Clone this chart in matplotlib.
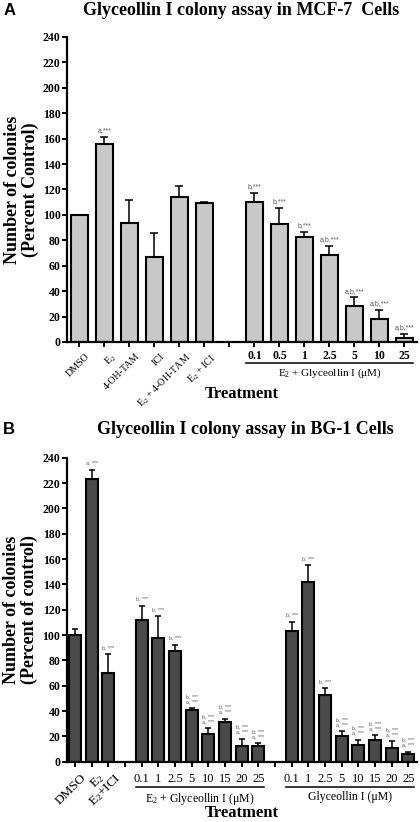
import numpy as np
import matplotlib
matplotlib.use("Agg")
import matplotlib.pyplot as plt
import matplotlib.transforms as mtransforms

plt.rcParams['font.family'] = ['Liberation Serif', 'DejaVu Serif']
plt.rcParams['mathtext.fontset'] = 'custom'
plt.rcParams['mathtext.rm'] = 'Liberation Serif'
plt.rcParams['mathtext.it'] = 'Liberation Serif:italic'
plt.rcParams['mathtext.bf'] = 'Liberation Serif:bold'

# ---------------- Panel A data (MCF-7) ----------------
A_ctrl_labels = ["DMSO", "E$_2$", "4-OH-TAM", "ICI", "E$_2$ + 4-OH-TAM", "E$_2$ + ICI"]
A_ctrl_vals = [100, 156, 94, 66.5, 114, 109]
A_ctrl_err = [0, 5.5, 17.5, 19.5, 9, 1]
A_ctrl_ann = ["", "a,***", "", "", "", ""]
A_doses = ["0.1", "0.5", "1", "2.5", "5", "10", "25"]
A_dose_vals = [110, 93, 82.5, 68.5, 28.5, 18, 3.5]
A_dose_err = [7, 12.5, 4, 7, 6.5, 7.5, 2.8]
A_dose_ann = ["b,***", "b,***", "b,***", "a,b,***", "a,b,***", "a,b,***", "a,b,***"]

# ---------------- Panel B data (BG-1) ----------------
B_ctrl_labels = ["DMSO", "E$_2$", "E$_2$+ICI"]
B_ctrl_vals = [100, 223, 70]
B_ctrl_err = [5, 7.5, 15]
B_ctrl_ann = ["", "a, ***", "b, ***"]
B_doses = ["0.1", "1", "2.5", "5", "10", "15", "20", "25"]
B_e2gly_vals = [112, 98, 87, 41, 22, 31, 12, 12]
B_e2gly_err = [11, 17, 5.5, 1, 4.5, 3, 6, 2.5]
B_e2gly_ann = ["b, ***", "b, ***", "b, ***", "b, ***\na, ***", "b, ***\na, ***",
               "b, ***\na, ***", "b, ***\na, ***", "b, ***\na, ***"]
B_gly_vals = [103, 142, 53, 20, 13, 17.5, 10.5, 6]
B_gly_err = [7.5, 13, 5, 4, 4.5, 3.5, 5.5, 2]
B_gly_ann = ["b, ***", "b, ***", "b, ***", "b, ***\na, ***", "b, ***\na, ***",
             "b, ***\na, ***", "b, ***\na, ***", "b, ***\na, ***"]

fig = plt.figure(figsize=(4.2, 8.22), dpi=100)


def style_axis(ax, ymax=240):
    ax.set_ylim(0, ymax)
    ax.set_yticks(np.arange(0, ymax + 1, 20))
    for s in ['top', 'right']:
        ax.spines[s].set_visible(False)
    for s in ['left', 'bottom']:
        ax.spines[s].set_linewidth(1.6)
    ax.tick_params(axis='both', width=1.4, length=3.5, direction='out')
    ax.tick_params(axis='y', labelsize=8.5, pad=1)
    for lab in ax.get_yticklabels():
        lab.set_fontweight('bold')


def draw_bars(ax, pos, vals, errs, color, width, capsize, lw):
    ax.bar(pos, vals, width=width, color=color, edgecolor='black', linewidth=lw, zorder=2)
    ax.errorbar(pos, vals, yerr=[np.zeros(len(errs)), errs], fmt='none', ecolor='black',
                elinewidth=1.1, capsize=capsize, capthick=1.1, zorder=1)


def annotate(ax, pos, vals, errs, anns, size, offset_pts):
    for p, v, e, a in zip(pos, vals, errs, anns):
        if a:
            ax.annotate(a, xy=(p, v + e), xytext=(0, offset_pts), textcoords='offset points',
                        ha='center', va='bottom', fontsize=size, color='#555555',
                        family=['Liberation Sans', 'DejaVu Sans'], linespacing=1.0)


def group_line(ax, x0, x1, yfrac, label, size):
    trans = mtransforms.blended_transform_factory(ax.transData, ax.transAxes)
    ax.plot([x0, x1], [yfrac, yfrac], transform=trans, color='black', lw=1.1, clip_on=False)
    ax.text((x0 + x1) / 2, yfrac - 0.013, label, transform=trans, ha='center', va='top',
            fontsize=size)


# ================= Panel A =================
axA = fig.add_axes([0.1595, 0.584, 0.8333, 0.371])
nA = len(A_ctrl_vals)
posA_ctrl = np.arange(nA)
posA_dose = np.arange(nA + 1, nA + 1 + len(A_dose_vals))
wA = 0.68
draw_bars(axA, posA_ctrl, A_ctrl_vals, A_ctrl_err, '#c8c8c8', wA, 3.2, 1.5)
draw_bars(axA, posA_dose, A_dose_vals, A_dose_err, '#c8c8c8', wA, 3.2, 1.5)
annotate(axA, posA_ctrl, A_ctrl_vals, A_ctrl_err, A_ctrl_ann, 5, 2)
annotate(axA, posA_dose, A_dose_vals, A_dose_err, A_dose_ann, 5, 2)
axA.set_xlim(-0.5, posA_dose[-1] + 0.5)
style_axis(axA)
allposA = np.arange(0, posA_dose[-1] + 1)
axA.set_xticks(allposA)
axA.set_xticklabels([''] * len(allposA))
for p, lab in zip(posA_ctrl, A_ctrl_labels):
    axA.annotate(lab, xy=(p, 0), xytext=(4, -7), textcoords='offset points',
                 ha='right', va='top', rotation=45, rotation_mode='anchor', fontsize=7.2)
transA = mtransforms.blended_transform_factory(axA.transData, axA.transAxes)
for p, lab in zip(posA_dose, A_doses):
    axA.text(p, -0.045, lab, transform=transA, ha='center', va='center',
             fontsize=8.5, fontweight='bold')
group_line(axA, posA_dose[0] - wA / 2, posA_dose[-1] + wA / 2, -0.068,
           "E$_2$ + Glyceollin I (\u03bcM)", 8)
axA.text(0.5, -0.17, "Treatment", transform=axA.transAxes, ha='center', va='center',
         fontsize=12, fontweight='bold')
axA.set_ylabel("Number of colonies\n(Percent Control)", fontsize=13, fontweight='bold',
               labelpad=3, linespacing=1.05)
fig.text(0.575, 0.987, "Glyceollin I colony assay in MCF-7  Cells", ha='center', va='center',
         fontsize=13, fontweight='bold')
fig.text(0.008, 0.987, "A", ha='left', va='center', fontsize=12, fontweight='bold',
         family=['Liberation Sans', 'DejaVu Sans'])

# ================= Panel B =================
axB = fig.add_axes([0.1588, 0.0734, 0.8333, 0.3698])
nB = len(B_ctrl_vals)
posB_ctrl = np.arange(nB)
posB_e2 = np.arange(nB + 1, nB + 1 + len(B_e2gly_vals))
posB_gly = np.arange(posB_e2[-1] + 2, posB_e2[-1] + 2 + len(B_gly_vals))
wB = 0.72
for pos, vals, errs in [(posB_ctrl, B_ctrl_vals, B_ctrl_err),
                        (posB_e2, B_e2gly_vals, B_e2gly_err),
                        (posB_gly, B_gly_vals, B_gly_err)]:
    draw_bars(axB, pos, vals, errs, '#4a4a4a', wB, 2.5, 1.5)
annotate(axB, posB_ctrl, B_ctrl_vals, B_ctrl_err, B_ctrl_ann, 3.8, 3)
annotate(axB, posB_e2, B_e2gly_vals, B_e2gly_err, B_e2gly_ann, 3.8, 3)
annotate(axB, posB_gly, B_gly_vals, B_gly_err, B_gly_ann, 3.8, 3)
axB.set_xlim(-0.5, posB_gly[-1] + 0.5)
style_axis(axB)
allposB = np.arange(0, posB_gly[-1] + 1)
axB.set_xticks(allposB)
axB.set_xticklabels([''] * len(allposB))
for p, lab in zip(posB_ctrl, B_ctrl_labels):
    axB.annotate(lab, xy=(p, 0), xytext=(4, -7), textcoords='offset points',
                 ha='right', va='top', rotation=45, rotation_mode='anchor', fontsize=9.5)
transB = mtransforms.blended_transform_factory(axB.transData, axB.transAxes)
for pos in (posB_e2, posB_gly):
    for p, lab in zip(pos, B_doses):
        axB.text(p, -0.057, lab, transform=transB, ha='center', va='center', fontsize=9)
group_line(axB, posB_e2[0] - wB / 2, posB_e2[-1] + wB / 2, -0.082,
           "E$_2$ + Glyceollin I (\u03bcM)", 8.5)
group_line(axB, posB_gly[0] - wB / 2, posB_gly[-1] + wB / 2, -0.082,
           "Glyceollin I (\u03bcM)", 8.5)
axB.text(0.5, -0.168, "Treatment", transform=axB.transAxes, ha='center', va='center',
         fontsize=12, fontweight='bold')
axB.set_ylabel("Number of colonies\n(Percent of control)", fontsize=13, fontweight='bold',
               labelpad=3, linespacing=1.05)
fig.text(0.585, 0.477, "Glyceollin I colony assay in BG-1 Cells", ha='center', va='center',
         fontsize=13, fontweight='bold')
fig.text(0.008, 0.477, "B", ha='left', va='center', fontsize=12, fontweight='bold',
         family=['Liberation Sans', 'DejaVu Sans'])

fig.savefig("out.png", dpi=100)
